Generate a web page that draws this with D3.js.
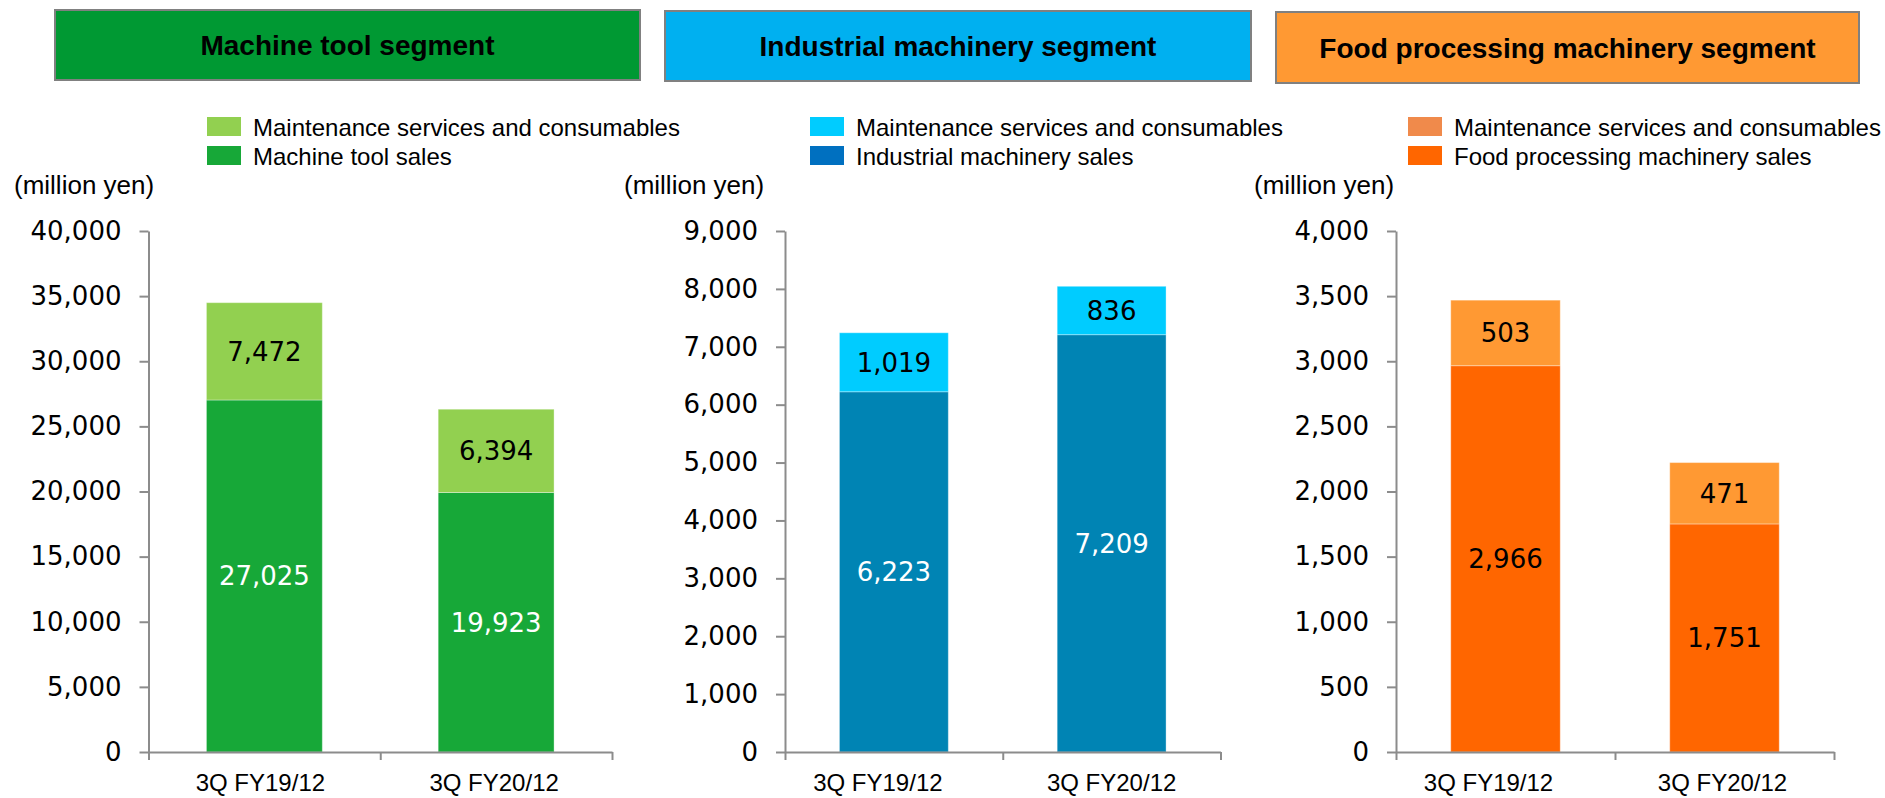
<!DOCTYPE html>
<html>
<head>
<meta charset="utf-8">
<script src="https://cdn.jsdelivr.net/npm/d3@7"></script>
<style>
    html, body { margin: 0; padding: 0; background: #fff; }
    svg { display: block; }
    .tick-label { font-family: "DejaVu Sans", Verdana, sans-serif; font-size: 26px; fill: #000; }
    .cat-label { font-family: "Liberation Sans", Arial, sans-serif; font-size: 24px; fill: #000; }
    .legend-text { font-family: "Liberation Sans", Arial, sans-serif; font-size: 24px; fill: #000; }
    .unit-text { font-family: "Liberation Sans", Arial, sans-serif; font-size: 26px; fill: #000; }
    .header-text { font-family: "Liberation Sans", Arial, sans-serif; font-size: 28px; font-weight: bold; fill: #000; }
    .value-label { font-family: "DejaVu Sans", Verdana, sans-serif; font-size: 26px; }
</style>
</head>
<body>
<svg id="chart"></svg>
<script>
// data
const categories = ['3Q FY19/12', '3Q FY20/12'];

const segmentTitles = ['Machine tool segment', 'Industrial machinery segment', 'Food processing machinery segment'];
const maintenanceLabel = 'Maintenance services and consumables';
const salesLabels = ['Machine tool sales', 'Industrial machinery sales', 'Food processing machinery sales'];
const unitLabel = '(million yen)';

const machineToolSales = [27025, 19923];
const machineToolMaintenance = [7472, 6394];
const industrialSales = [6223, 7209];
const industrialMaintenance = [1019, 836];
const foodSales = [2966, 1751];
const foodMaintenance = [503, 471];

const yMaxValues = [40000, 9000, 4000];
const yTickSteps = [5000, 1000, 500];

// layout
const width = 1885, height = 798;
const plotTop = 231, plotBottom = 752;

const panels = [
    {
        sales: machineToolSales, maint: machineToolMaintenance,
        x0: 148.5, x1: 612,
        header: { x: 55, y: 10, w: 585, h: 70, fill: '#009933' },
        legendX: 207, unitX: 14,
        catShift: [-4, -2],
        salesColor: '#17a838', maintColor: '#92d050',
        salesSwatch: '#17a838', maintSwatch: '#92d050',
        salesText: '#fff', maintText: '#000'
    },
    {
        sales: industrialSales, maint: industrialMaintenance,
        x0: 785, x1: 1220.5,
        header: { x: 665, y: 11, w: 586, h: 70, fill: '#00b0f0' },
        legendX: 810, unitX: 624,
        catShift: [-16, 0],
        salesColor: '#0084b4', maintColor: '#00ccff',
        salesSwatch: '#0070c0', maintSwatch: '#00ccff',
        salesText: '#fff', maintText: '#000'
    },
    {
        sales: foodSales, maint: foodMaintenance,
        x0: 1396, x1: 1834,
        header: { x: 1276, y: 12, w: 583, h: 71, fill: '#ff9933' },
        legendX: 1408, unitX: 1254,
        catShift: [-17, -2],
        salesColor: '#ff6600', maintColor: '#ff9933',
        salesSwatch: '#ff6600', maintSwatch: '#f08a4b',
        salesText: '#000', maintText: '#000'
    }
];

const axisColor = '#8c8c8c';

const svg = d3.select('#chart')
    .attr('width', width)
    .attr('height', height)
    .attr('viewBox', `0 0 ${width} ${height}`);

function drawPanel(p, i) {
    const g = svg.append('g');

    // header box
    g.append('rect')
        .attr('x', p.header.x).attr('y', p.header.y)
        .attr('width', p.header.w).attr('height', p.header.h)
        .attr('fill', p.header.fill)
        .attr('stroke', '#808080')
        .attr('stroke-width', 2);
    g.append('text')
        .attr('class', 'header-text')
        .attr('x', p.header.x + p.header.w / 2)
        .attr('y', p.header.y + p.header.h / 2 + 10)
        .attr('text-anchor', 'middle')
        .text(segmentTitles[i]);

    // legend
    const legendItems = [
        { label: maintenanceLabel, color: p.maintSwatch },
        { label: salesLabels[i], color: p.salesSwatch }
    ];
    const legend = g.append('g')
        .selectAll('g')
        .data(legendItems)
        .enter()
        .append('g')
        .attr('transform', (d, j) => `translate(${p.legendX}, ${117 + j * 29})`);
    legend.append('rect')
        .attr('width', 34)
        .attr('height', 19)
        .attr('fill', d => d.color);
    legend.append('text')
        .attr('class', 'legend-text')
        .attr('x', 46)
        .attr('y', 18.5)
        .text(d => d.label);

    // unit
    g.append('text')
        .attr('class', 'unit-text')
        .attr('x', p.unitX)
        .attr('y', 194)
        .text(unitLabel);

    // scales
    const x = d3.scaleBand()
        .domain(categories)
        .range([p.x0, p.x1])
        .paddingInner(0.5)
        .paddingOuter(0.25);

    const y = d3.scaleLinear()
        .domain([0, yMaxValues[i]])
        .range([plotBottom, plotTop]);

    const rows = categories.map((c, k) => ({
        cat: c,
        sales: p.sales[k],
        maint: p.maint[k]
    }));

    // bars: sales at bottom, maintenance stacked
    const bars = g.append('g');
    bars.selectAll('rect.sales')
        .data(rows)
        .enter()
        .append('rect')
        .attr('class', 'sales')
        .attr('x', d => x(d.cat))
        .attr('width', x.bandwidth())
        .attr('y', d => y(d.sales))
        .attr('height', d => y(0) - y(d.sales))
        .attr('fill', p.salesColor)
        .attr('stroke', '#ffffff')
        .attr('stroke-opacity', 0.35)
        .attr('stroke-width', 1);

    bars.selectAll('rect.maint')
        .data(rows)
        .enter()
        .append('rect')
        .attr('class', 'maint')
        .attr('x', d => x(d.cat))
        .attr('width', x.bandwidth())
        .attr('y', d => y(d.sales + d.maint))
        .attr('height', d => y(d.sales) - y(d.sales + d.maint))
        .attr('fill', p.maintColor)
        .attr('stroke', '#ffffff')
        .attr('stroke-opacity', 0.35)
        .attr('stroke-width', 1);

    // value labels
    bars.selectAll('text.sales-label')
        .data(rows)
        .enter()
        .append('text')
        .attr('class', 'value-label')
        .attr('x', d => x(d.cat) + x.bandwidth() / 2)
        .attr('y', d => (y(0) + y(d.sales)) / 2)
        .attr('dy', '0.36em')
        .attr('text-anchor', 'middle')
        .attr('fill', p.salesText)
        .text(d => d3.format(',')(d.sales));

    bars.selectAll('text.maint-label')
        .data(rows)
        .enter()
        .append('text')
        .attr('class', 'value-label')
        .attr('x', d => x(d.cat) + x.bandwidth() / 2)
        .attr('y', d => (y(d.sales) + y(d.sales + d.maint)) / 2)
        .attr('dy', '0.36em')
        .attr('text-anchor', 'middle')
        .attr('fill', p.maintText)
        .text(d => d3.format(',')(d.maint));

    // y axis
    const yAxis = g.append('g')
        .attr('transform', `translate(${p.x0},0)`)
        .call(d3.axisLeft(y)
            .tickValues(d3.range(0, yMaxValues[i] + 1, yTickSteps[i]))
            .tickSize(9)
            .tickSizeOuter(0)
            .tickPadding(18)
            .tickFormat(d3.format(',')));
    yAxis.selectAll('text').attr('class', 'tick-label').attr('fill', null).attr('font-size', null).attr('font-family', null);

    // x axis: boundary ticks between categories
    const xb = d3.scaleLinear().domain([0, categories.length]).range([p.x0, p.x1]);
    g.append('g')
        .attr('transform', `translate(0,${plotBottom})`)
        .call(d3.axisBottom(xb)
            .tickValues(d3.range(0, categories.length + 1))
            .tickSize(8)
            .tickSizeOuter(0)
            .tickFormat(''));

    // category labels
    const xAxis = g.append('g')
        .attr('transform', `translate(0,${plotBottom})`)
        .call(d3.axisBottom(x).tickSize(0).tickPadding(22));
    xAxis.select('.domain').remove();
    xAxis.selectAll('text')
        .attr('class', 'cat-label')
        .attr('fill', null).attr('font-size', null).attr('font-family', null)
        .attr('dx', (d, k) => p.catShift[k]);

    g.selectAll('.domain, .tick line')
        .attr('stroke', axisColor)
        .attr('stroke-width', 2);
}

panels.forEach(drawPanel);
</script>
</body>
</html>
